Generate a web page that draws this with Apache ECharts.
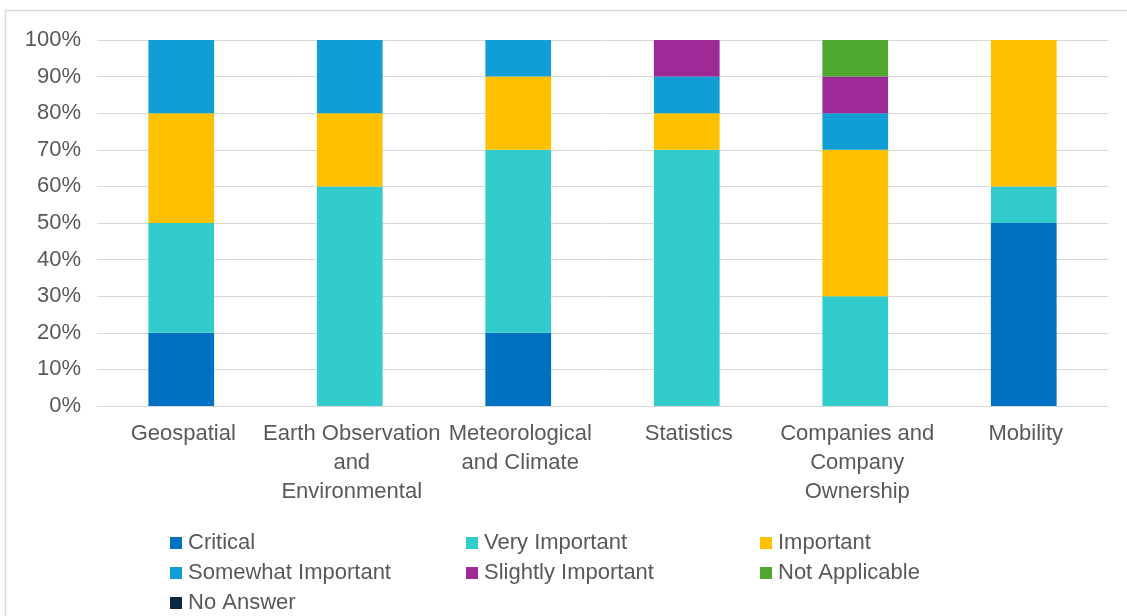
<!DOCTYPE html>
<html>
<head>
<meta charset="utf-8">
<script src="https://cdn.jsdelivr.net/npm/echarts@6/dist/echarts.min.js"></script>
<style>
  html, body { margin: 0; padding: 0; background: #fff; }
  #chart { width: 1127px; height: 616px; }
</style>
</head>
<body>
<div id="chart"></div>
<script>
// Share of responses (%) by importance level for each data category
const categories = [
  'Geospatial',
  'Earth Observation\nand\nEnvironmental',
  'Meteorological\nand Climate',
  'Statistics',
  'Companies and\nCompany\nOwnership',
  'Mobility'
];
const critical          = [20, 0, 20, 0, 0, 50];
const veryImportant     = [30, 60, 50, 70, 30, 10];
const important         = [30, 20, 20, 10, 40, 40];
const somewhatImportant = [20, 20, 10, 10, 10, 0];
const slightlyImportant = [0, 0, 0, 10, 10, 0];
const notApplicable     = [0, 0, 0, 0, 10, 0];
const noAnswer          = [0, 0, 0, 0, 0, 0];
const yTicks = [0, 10, 20, 30, 40, 50, 60, 70, 80, 90, 100];

const seriesDefs = [
  ['Critical', critical, '#0070C0'],
  ['Very Important', veryImportant, '#33CCCC'],
  ['Important', important, '#FFC000'],
  ['Somewhat Important', somewhatImportant, '#119ED7'],
  ['Slightly Important', slightlyImportant, '#9E2A97'],
  ['Not Applicable', notApplicable, '#4EA72E'],
  ['No Answer', noAnswer, '#0E2841']
];

const textColor = '#595959';
const font = 'Liberation Sans, Arial, sans-serif';

const chart = echarts.init(document.getElementById('chart'), null, { renderer: 'canvas' });

const legendText = { color: textColor, fontSize: 22, fontFamily: font, padding: [0, 0, 0, 1] };
function legendCol(left, names) {
  return {
    left: left, top: 527, height: 100, orient: 'vertical',
    itemWidth: 12, itemHeight: 12, itemGap: 8,
    icon: 'rect', textStyle: legendText, selectedMode: false,
    data: names
  };
}

chart.setOption({
  animation: false,
  backgroundColor: '#fff',
  graphic: [{
    type: 'rect', silent: true,
    shape: { x: 5.5, y: 10.5, width: 1140, height: 620 },
    style: { fill: 'none', stroke: '#D9D9D9', lineWidth: 1.5 }
  }],
  grid: { left: 97, right: 19, top: 40, height: 366, containLabel: false },
  legend: [
    legendCol(165, ['Critical', 'Somewhat Important', 'No Answer']),
    legendCol(461, ['Very Important', 'Slightly Important']),
    legendCol(755, ['Important', 'Not Applicable'])
  ],
  xAxis: {
    type: 'category',
    data: categories,
    axisLine: { show: true, lineStyle: { color: '#D9D9D9', width: 1 } },
    axisTick: { show: false },
    axisLabel: {
      interval: 0, color: textColor, fontSize: 22, fontFamily: font,
      lineHeight: 29, margin: 13, align: 'center', padding: [0, 0, 0, 4]
    }
  },
  yAxis: {
    type: 'value',
    min: yTicks[0], max: yTicks[yTicks.length - 1], interval: 10,
    axisLine: { show: false },
    axisTick: { show: false },
    splitLine: { lineStyle: { color: '#D9D9D9', width: 1 } },
    axisLabel: {
      color: textColor, fontSize: 22, fontFamily: font, margin: 16,
      verticalAlign: 'middle', padding: [0, 0, 8, 0],
      formatter: v => v + '%'
    }
  },
  series: seriesDefs.map(([name, values, color]) => ({
    name: name,
    type: 'bar',
    stack: 'total',
    barWidth: '39%',
    data: values,
    itemStyle: { color: color },
    emphasis: { disabled: true }
  }))
});
</script>
</body>
</html>
